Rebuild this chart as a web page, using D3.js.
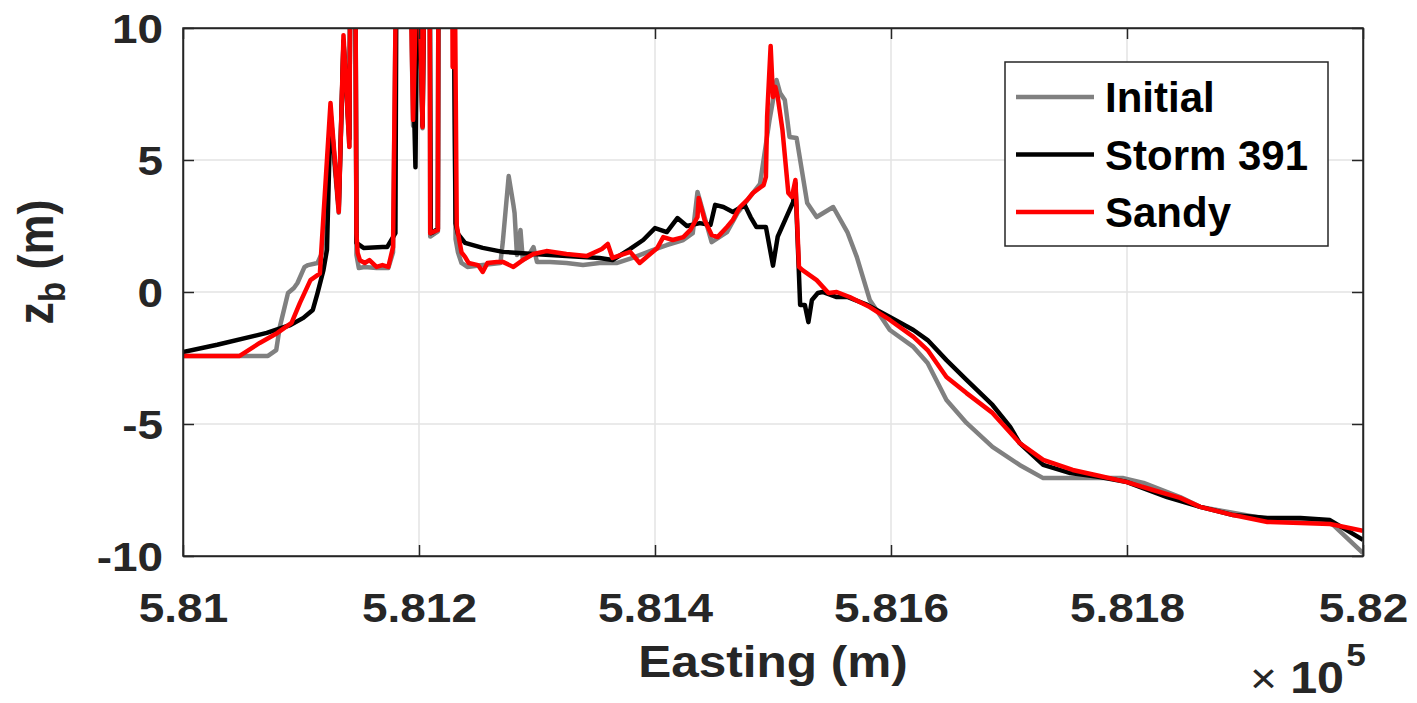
<!DOCTYPE html>
<html>
<head>
<meta charset="utf-8">
<script src="https://cdn.jsdelivr.net/npm/d3@7"></script>
<style>
  body { margin: 0; background: #fff; }
  text { font-family: "Liberation Sans", Arial, sans-serif; font-weight: bold; }
</style>
</head>
<body>
<svg id="profile" width="1417" height="703"></svg>
<script>
    // bed elevation profiles, [easting (m), z_b (m)], values above 10 are clipped spikes
    var initial = [
        [581000,-2.42],[581072,-2.42],[581079,-2.2],[581082,-1.33],[581089,-0.04],[581094,0.15],
        [581097,0.34],[581103,0.95],[581106,1.02],[581114,1.1],[581118,1.5],[581125,6.5],
        [581132,3.0],[581136,9.5],[581141,5.5],[581142,14],[581146,14],[581147,1.4],[581149,0.91],
        [581154,0.95],[581164,0.91],[581174,0.91],[581178,1.5],[581181,14],[581192,14],[581195,6.3],
        [581199,14],[581203,6.2],[581205,14],[581209,14],[581209.5,2.1],[581216,2.3],[581216.5,14],
        [581229,14],[581231,2.0],[581233,1.5],[581236,1.1],[581241,0.95],[581254,1.02],[581269,1.1],
        [581271,1.89],[581276,4.39],[581280,3.3],[581281,2.99],[581283,1.4],[581286,2.35],[581288,1.21],
        [581292,1.33],[581297,1.7],[581300,1.14],[581311,1.14],[581325,1.1],[581339,1.02],[581353,1.1],
        [581368,1.1],[581381,1.29],[581398,1.59],[581410,1.78],[581424,1.97],[581432,2.23],[581436,3.79],
        [581448,1.89],[581461,2.27],[581470,3.0],[581489,4.1],[581497,6.5],[581503,8.03],[581506,7.54],
        [581510,7.27],[581514,5.87],[581520,5.83],[581529,3.37],[581537,2.84],[581551,3.22],[581563,2.27],
        [581571,1.33],[581582,-0.3],[581599,-1.44],[581619,-2.08],[581631,-2.69],[581647,-4.09],
        [581664,-4.96],[581686,-5.87],[581709,-6.55],[581729,-7.05],[581752,-7.05],[581777,-7.05],
        [581797,-7.05],[581814,-7.23],[581845,-7.77],[581862,-8.14],[581919,-8.6],[581972,-8.71],
        [582000,-9.89]
    ];

    var storm391 = [
        [581000,-2.27],[581029,-2.0],[581071,-1.55],[581091,-1.25],[581102,-0.98],[581110,-0.68],
        [581114,-0.04],[581119,0.83],[581122,1.6],[581125,6.8],[581132,3.2],[581136,9.5],[581141,5.8],
        [581142,14],[581146,14],[581147,1.86],[581153,1.67],[581169,1.7],[581173,1.7],[581180,2.23],
        [581181,14],[581192,14],[581197,4.73],[581199,14],[581203,6.3],[581205,14],[581209,14],
        [581210,2.23],[581212,2.27],[581216,2.4],[581216.5,14],[581229,14],[581231,2.6],[581233,2.2],
        [581239,1.86],[581254,1.67],[581271,1.52],[581297,1.44],[581325,1.36],[581353,1.29],[581364,1.21],
        [581379,1.63],[581390,1.97],[581400,2.42],[581410,2.27],[581419,2.8],[581427,2.5],[581438,2.61],
        [581447,2.54],[581451,3.3],[581458,3.22],[581466,3.03],[581476,3.3],[581481,2.84],[581486,2.46],
        [581494,2.46],[581500,1.0],[581504,2.1],[581512,2.9],[581517,3.4],[581519,4.13],[581523,-0.49],
        [581527,-0.49],[581530,-1.14],[581533,-0.3],[581538,-0.04],[581542,0],[581554,-0.19],
        [581563,-0.19],[581580,-0.49],[581599,-0.95],[581619,-1.44],[581631,-1.82],[581647,-2.58],
        [581664,-3.33],[581686,-4.28],[581701,-5.11],[581709,-5.72],[581729,-6.55],[581752,-6.86],
        [581777,-7.01],[581800,-7.2],[581834,-7.77],[581862,-8.14],[581890,-8.45],[581919,-8.56],
        [581947,-8.56],[581972,-8.64],[582000,-9.39]
    ];

    var sandy = [
        [581000,-2.42],[581048,-2.42],[581065,-1.93],[581080,-1.55],[581092,-1.17],[581099,-0.42],
        [581108,0.45],[581114,0.64],[581116,0.7],[581125,7.16],[581132,3.03],[581136,9.73],[581141,5.49],
        [581142,14],[581146,14],[581147,2.2],[581148,1.48],[581150,1.2],[581154,1.1],[581158,1.21],
        [581164,0.95],[581169,1.02],[581174,0.95],[581178,1.7],[581181,14],[581192,14],[581195,6.52],
        [581199,14],[581203,6.25],[581205,14],[581209,14],[581209.5,2.23],[581216,2.35],[581216.5,14],
        [581228,14],[581228.5,8.52],[581229,14],[581230,14],[581232,2.5],[581236,1.5],[581239,1.33],
        [581242,1.1],[581250,1.02],[581254,0.76],[581258,1.1],[581266,1.14],[581271,1.14],[581280,0.95],
        [581288,1.21],[581297,1.44],[581308,1.55],[581325,1.44],[581342,1.36],[581355,1.63],[581360,1.82],
        [581364,1.29],[581379,1.52],[581387,1.1],[581402,1.67],[581407,2.08],[581415,1.97],[581424,2.08],
        [581430,2.35],[581436,2.84],[581437,3.56],[581442,2.73],[581448,2.16],[581453,2.08],[581461,2.46],
        [581466,2.73],[581472,3.22],[581478,3.48],[581483,3.75],[581492,4.05],[581494,4.36],[581495,6.63],
        [581498,9.32],[581500,7.39],[581502,7.77],[581504,7.39],[581508,6.14],[581513,3.75],[581516,3.6],
        [581519,4.24],[581522,0.95],[581525,0.83],[581537,0.45],[581547,-0.04],[581554,0],[581565,-0.19],
        [581582,-0.57],[581599,-1.06],[581619,-1.7],[581631,-2.2],[581647,-3.22],[581664,-3.83],
        [581686,-4.58],[581709,-5.72],[581729,-6.36],[581754,-6.74],[581777,-6.97],[581800,-7.2],
        [581822,-7.5],[581845,-7.8],[581862,-8.14],[581890,-8.45],[581919,-8.71],[581947,-8.75],
        [581972,-8.79],[582000,-9.05]
    ];

    var seriesNames = ["Initial", "Storm 391", "Sandy"];
    var seriesColors = ["#808080", "#000000", "#ff0000"];
    var xTicks = [581000, 581200, 581400, 581600, 581800, 582000];
    var yTicks = [-10, -5, 0, 5, 10];

    var svg = d3.select("#profile"),
        pL = 183, pR = 1363, pT = 28, pB = 556,
        axisColor = "#262626",
        lineW = 4.5,
        stretch = 1.12;   // tick text is drawn a bit wider than the plain font

    var x = d3.scaleLinear().domain([581000, 582000]).range([pL, pR]);
    var y = d3.scaleLinear().domain([-10, 10]).range([pB, pT]);

    //格線//
    svg.append("g").selectAll("line").data(xTicks.slice(1, -1))
        .enter().append("line")
        .attr("x1", function (d) {return x(d);}).attr("x2", function (d) {return x(d);})
        .attr("y1", pT).attr("y2", pB)
        .style("stroke", "#e3e3e3").style("stroke-width", 1.5);
    svg.append("g").selectAll("line").data(yTicks.slice(1, -1))
        .enter().append("line")
        .attr("y1", function (d) {return y(d);}).attr("y2", function (d) {return y(d);})
        .attr("x1", pL).attr("x2", pR)
        .style("stroke", "#e3e3e3").style("stroke-width", 1.5);

    svg.append("clipPath").attr("id", "plotclip")
        .append("rect").attr("x", pL).attr("y", pT)
        .attr("width", pR - pL).attr("height", pB - pT);

    var line = d3.line()
        .x(function (d) {return x(d[0]);})
        .y(function (d) {return y(d[1]);});

    svg.append("g").attr("clip-path", "url(#plotclip)")
        .selectAll("path")
        .data([initial, storm391, sandy])
        .enter().append("path")
        .attr("d", line)
        .style("fill", "none")
        .style("stroke", function (d, i) {return seriesColors[i];})
        .style("stroke-width", lineW)
        .style("stroke-linejoin", "round");

    //座標軸, ticks point inward on all four sides//
    var tickLen = 11;
    var xAxisG = svg.append("g").attr("transform", "translate(0," + pB + ")")
        .call(d3.axisBottom(x).tickValues(xTicks).tickSizeInner(-tickLen).tickSizeOuter(0)
            .tickFormat(function (d) {return String(+(d / 1e5).toFixed(3));}));
    svg.append("g").attr("transform", "translate(0," + pT + ")")
        .call(d3.axisTop(x).tickValues(xTicks).tickSizeInner(-tickLen).tickSizeOuter(0).tickFormat(""));
    var yAxisG = svg.append("g").attr("transform", "translate(" + pL + ",0)")
        .call(d3.axisLeft(y).tickValues(yTicks).tickSizeInner(-tickLen).tickSizeOuter(0)
            .tickFormat(function (d) {return String(d);}));
    svg.append("g").attr("transform", "translate(" + pR + ",0)")
        .call(d3.axisRight(y).tickValues(yTicks).tickSizeInner(-tickLen).tickSizeOuter(0).tickFormat(""));

    svg.selectAll(".domain").style("stroke", axisColor).style("stroke-width", 1.5);
    svg.selectAll(".tick line").style("stroke", axisColor).style("stroke-width", 1.5);
    svg.selectAll(".tick text")
        .style("font-size", "41px").style("fill", axisColor)
        .style("font-family", "'Liberation Sans', Arial, sans-serif").style("font-weight", "bold")
        .attr("transform", "scale(" + stretch + ",1)");
    xAxisG.selectAll(".tick text").attr("y", 66).attr("dy", null);
    yAxisG.selectAll(".tick text").attr("x", -20 / stretch).attr("dy", "0.36em");

    svg.append("rect").attr("x", pL).attr("y", pT)
        .attr("width", pR - pL).attr("height", pB - pT)
        .style("fill", "none").style("stroke", axisColor).style("stroke-width", 1.5);

    //軸標題//
    svg.append("text")
        .attr("transform", "translate(" + ((pL + pR) / 2) + ",677) scale(1.1,1)")
        .attr("text-anchor", "middle")
        .style("font-size", "45px").style("fill", axisColor)
        .text("Easting (m)");

    var yl = svg.append("text")
        .attr("transform", "translate(53,262) scale(1.1,1) rotate(-90)")
        .attr("text-anchor", "middle")
        .style("font-size", "45px").style("fill", axisColor);
    yl.append("tspan").text("z");
    yl.append("tspan").attr("dy", 11).style("font-size", "33px").text("b");
    yl.append("tspan").attr("dy", -11).text(" (m)");

    var ex = svg.append("text")
        .attr("transform", "translate(1250,693) scale(1.1,1)")
        .style("fill", axisColor);
    ex.append("tspan").style("font-size", "42px").style("font-weight", "normal").text("\u00d7");
    ex.append("tspan").attr("dx", 12).style("font-size", "44px").text("10");
    ex.append("tspan").attr("dx", 2).attr("dy", -27).style("font-size", "32px").text("5");

    //圖例//
    var legend = svg.append("g");
    legend.append("rect")
        .attr("x", 1005).attr("y", 62).attr("width", 323).attr("height", 184)
        .style("fill", "#fff").style("stroke", axisColor).style("stroke-width", 1.5);
    var item = legend.selectAll(".item").data(seriesNames)
        .enter().append("g")
        .attr("transform", function (d, i) {return "translate(0," + (97 + i * 57.5) + ")";});
    item.append("line")
        .attr("x1", 1016).attr("x2", 1094)
        .style("stroke", function (d, i) {return seriesColors[i];})
        .style("stroke-width", lineW);
    item.append("text")
        .attr("x", 1105).attr("dy", "0.36em")
        .style("font-size", "42px").style("fill", "#000")
        .text(function (d) {return d;});
</script>
</body>
</html>
